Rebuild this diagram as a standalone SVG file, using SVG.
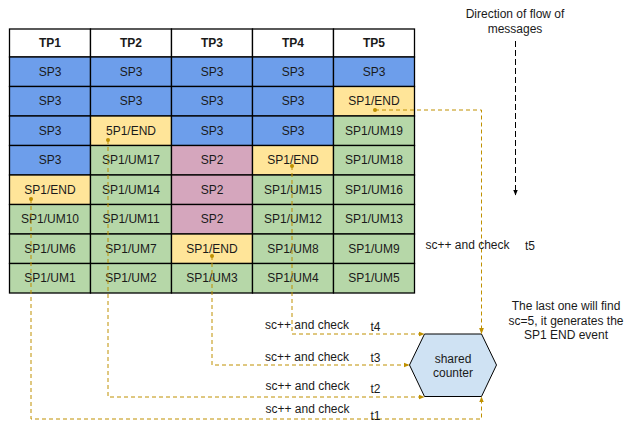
<svg xmlns="http://www.w3.org/2000/svg" width="633" height="430" viewBox="0 0 633 430">
<style>
text{font-family:"Liberation Sans",Arial,sans-serif;font-size:12px;fill:#1a1a1a}
.c{text-anchor:middle}
.h{font-weight:bold}
.b{fill:#6d9eeb}.y{fill:#ffe599}.g{fill:#b6d7a8}.p{fill:#d5a6bd}.w{fill:#fff}
.cell rect{stroke:#000;stroke-width:1.3}
.con{fill:none;stroke:#bf9000;stroke-width:1;stroke-dasharray:4 3}
.dot{fill:#bf9000}
</style>
<defs>
<marker id="ao" viewBox="0 0 10 10" refX="9" refY="5" markerWidth="6" markerHeight="6" orient="auto" markerUnits="userSpaceOnUse"><path d="M0,1 L10,5 L0,9 z" fill="#bf9000"/></marker>
<marker id="ab" viewBox="0 0 10 10" refX="9" refY="5" markerWidth="6" markerHeight="6" orient="auto" markerUnits="userSpaceOnUse"><path d="M0,1 L10,5 L0,9 z" fill="#000"/></marker>
</defs>

<g id="table" class="cell">
<g id="hdr">
<rect class="w" x="9.5" y="29" width="81" height="28"/><text class="c h" x="50" y="47">TP1</text>
<rect class="w" x="90.5" y="29" width="81" height="28"/><text class="c h" x="131" y="47">TP2</text>
<rect class="w" x="171.5" y="29" width="81" height="28"/><text class="c h" x="212" y="47">TP3</text>
<rect class="w" x="252.5" y="29" width="81" height="28"/><text class="c h" x="293" y="47">TP4</text>
<rect class="w" x="333.5" y="29" width="81" height="28"/><text class="c h" x="374" y="47">TP5</text>
</g>
<g id="r1">
<rect class="b" x="9.5" y="57" width="81" height="29.5"/><text class="c" x="50" y="76">SP3</text>
<rect class="b" x="90.5" y="57" width="81" height="29.5"/><text class="c" x="131" y="76">SP3</text>
<rect class="b" x="171.5" y="57" width="81" height="29.5"/><text class="c" x="212" y="76">SP3</text>
<rect class="b" x="252.5" y="57" width="81" height="29.5"/><text class="c" x="293" y="76">SP3</text>
<rect class="b" x="333.5" y="57" width="81" height="29.5"/><text class="c" x="374" y="76">SP3</text>
</g>
<g id="r2">
<rect class="b" x="9.5" y="86.5" width="81" height="29.5"/><text class="c" x="50" y="105">SP3</text>
<rect class="b" x="90.5" y="86.5" width="81" height="29.5"/><text class="c" x="131" y="105">SP3</text>
<rect class="b" x="171.5" y="86.5" width="81" height="29.5"/><text class="c" x="212" y="105">SP3</text>
<rect class="b" x="252.5" y="86.5" width="81" height="29.5"/><text class="c" x="293" y="105">SP3</text>
<rect class="y" x="333.5" y="86.5" width="81" height="29.5"/><text class="c" x="374" y="105">SP1/END</text>
</g>
<g id="r3">
<rect class="b" x="9.5" y="116" width="81" height="29.5"/><text class="c" x="50" y="135">SP3</text>
<rect class="y" x="90.5" y="116" width="81" height="29.5"/><text class="c" x="131" y="135">5P1/END</text>
<rect class="b" x="171.5" y="116" width="81" height="29.5"/><text class="c" x="212" y="135">SP3</text>
<rect class="b" x="252.5" y="116" width="81" height="29.5"/><text class="c" x="293" y="135">SP3</text>
<rect class="g" x="333.5" y="116" width="81" height="29.5"/><text class="c" x="374" y="135">SP1/UM19</text>
</g>
<g id="r4">
<rect class="b" x="9.5" y="145.5" width="81" height="29.5"/><text class="c" x="50" y="164">SP3</text>
<rect class="g" x="90.5" y="145.5" width="81" height="29.5"/><text class="c" x="131" y="164">SP1/UM17</text>
<rect class="p" x="171.5" y="145.5" width="81" height="29.5"/><text class="c" x="212" y="164">SP2</text>
<rect class="y" x="252.5" y="145.5" width="81" height="29.5"/><text class="c" x="293" y="164">SP1/END</text>
<rect class="g" x="333.5" y="145.5" width="81" height="29.5"/><text class="c" x="374" y="164">SP1/UM18</text>
</g>
<g id="r5">
<rect class="y" x="9.5" y="175" width="81" height="29.5"/><text class="c" x="50" y="194">SP1/END</text>
<rect class="g" x="90.5" y="175" width="81" height="29.5"/><text class="c" x="131" y="194">SP1/UM14</text>
<rect class="p" x="171.5" y="175" width="81" height="29.5"/><text class="c" x="212" y="194">SP2</text>
<rect class="g" x="252.5" y="175" width="81" height="29.5"/><text class="c" x="293" y="194">SP1/UM15</text>
<rect class="g" x="333.5" y="175" width="81" height="29.5"/><text class="c" x="374" y="194">SP1/UM16</text>
</g>
<g id="r6">
<rect class="g" x="9.5" y="204.5" width="81" height="29.5"/><text class="c" x="50" y="223">SP1/UM10</text>
<rect class="g" x="90.5" y="204.5" width="81" height="29.5"/><text class="c" x="131" y="223">SP1/UM11</text>
<rect class="p" x="171.5" y="204.5" width="81" height="29.5"/><text class="c" x="212" y="223">SP2</text>
<rect class="g" x="252.5" y="204.5" width="81" height="29.5"/><text class="c" x="293" y="223">SP1/UM12</text>
<rect class="g" x="333.5" y="204.5" width="81" height="29.5"/><text class="c" x="374" y="223">SP1/UM13</text>
</g>
<g id="r7">
<rect class="g" x="9.5" y="234" width="81" height="29.5"/><text class="c" x="50" y="253">SP1/UM6</text>
<rect class="g" x="90.5" y="234" width="81" height="29.5"/><text class="c" x="131" y="253">SP1/UM7</text>
<rect class="y" x="171.5" y="234" width="81" height="29.5"/><text class="c" x="212" y="253">SP1/END</text>
<rect class="g" x="252.5" y="234" width="81" height="29.5"/><text class="c" x="293" y="253">SP1/UM8</text>
<rect class="g" x="333.5" y="234" width="81" height="29.5"/><text class="c" x="374" y="253">SP1/UM9</text>
</g>
<g id="r8">
<rect class="g" x="9.5" y="263.5" width="81" height="29.5"/><text class="c" x="50" y="282">SP1/UM1</text>
<rect class="g" x="90.5" y="263.5" width="81" height="29.5"/><text class="c" x="131" y="282">SP1/UM2</text>
<rect class="g" x="171.5" y="263.5" width="81" height="29.5"/><text class="c" x="212" y="282">SP1/UM3</text>
<rect class="g" x="252.5" y="263.5" width="81" height="29.5"/><text class="c" x="293" y="282">SP1/UM4</text>
<rect class="g" x="333.5" y="263.5" width="81" height="29.5"/><text class="c" x="374" y="282">SP1/UM5</text>
</g>
</g>

<g id="counter">
<polygon points="409.5,365 424.5,334 481.5,334 496.5,365 481.5,396.5 424.5,396.5" fill="#cfe2f3" stroke="#000" stroke-width="1"/>
<text class="c" x="453" y="363">shared</text>
<text class="c" x="453" y="377">counter</text>
</g>

<g id="connectors">
<path class="con" d="M31,199 V419 H481.5 V397" marker-end="url(#ao)"/>
<path class="con" d="M108,140 V397 H424" marker-end="url(#ao)"/>
<path class="con" d="M212,256 V365 H409" marker-end="url(#ao)"/>
<path class="con" d="M292,166 V334 H424" marker-end="url(#ao)"/>
<path class="con" d="M375,110 H481.5 V333.5" marker-end="url(#ao)"/>
<circle class="dot" cx="31" cy="199" r="2"/>
<circle class="dot" cx="108" cy="140" r="2"/>
<circle class="dot" cx="212" cy="256" r="2"/>
<circle class="dot" cx="292" cy="166" r="2"/>
<circle class="dot" cx="375" cy="110" r="2"/>
<path d="M515.5,41 V195" fill="none" stroke="#000" stroke-width="1" stroke-dasharray="6 3" marker-end="url(#ab)"/>
</g>

<g id="labels">
<text class="c" x="307" y="328.5">sc++ and check</text>
<text x="370.5" y="331">t4</text>
<text class="c" x="307" y="360.5">sc++ and check</text>
<text x="370.5" y="362">t3</text>
<text class="c" x="307.5" y="389.5">sc++ and check</text>
<text x="370.5" y="393">t2</text>
<text class="c" x="307.5" y="413">sc++ and check</text>
<text x="370.5" y="419.5">t1</text>
<text class="c" x="467.5" y="248.5">sc++ and check</text>
<text x="525" y="249.5">t5</text>
<text class="c" x="515" y="18">Direction of flow of</text>
<text class="c" x="515" y="33">messages</text>
<text class="c" x="566" y="310">The last one will find</text>
<text class="c" x="566" y="325">sc=5, it generates the</text>
<text class="c" x="566" y="339">SP1 END event</text>
</g>
</svg>
